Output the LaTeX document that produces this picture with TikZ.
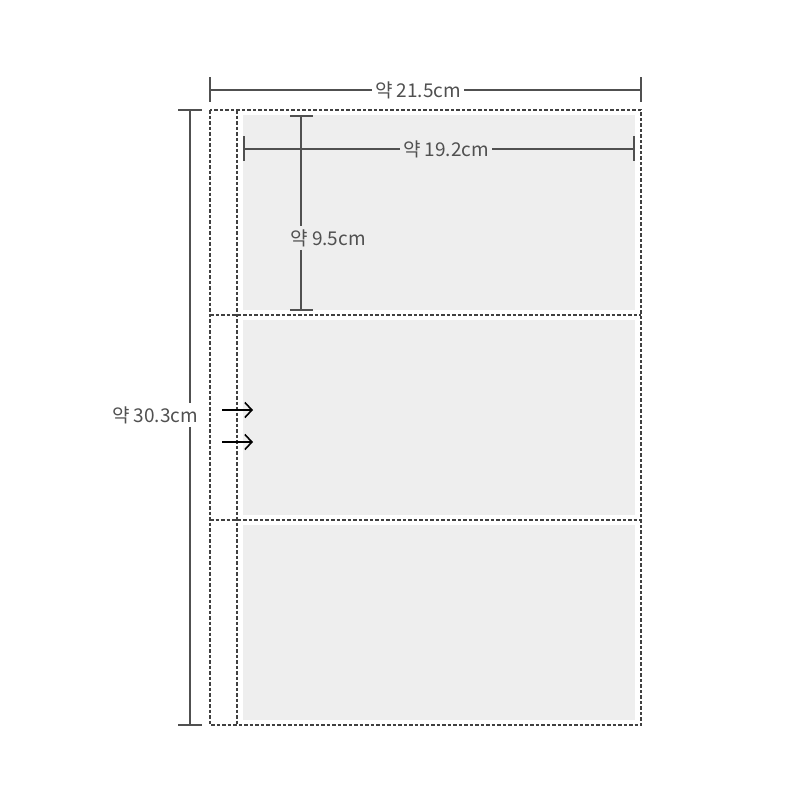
\documentclass[tikz,border=0pt]{standalone}
\usepackage{fontspec}
\setmainfont{Noto Sans CJK KR}
\usetikzlibrary{arrows.meta}
\definecolor{dimgray}{HTML}{505050}
\definecolor{panelgray}{HTML}{EEEEEE}
\tikzset{
  cutline/.style={black!75, dash pattern=on 3.5pt off 2pt, line width=1.1pt},
  dimline/.style={dimgray, line width=1.3pt},
  dimlabel/.style={inner sep=3pt, text=dimgray, font=\fontsize{19}{19}\selectfont},
  panel/.style={fill=panelgray, draw=none},
  slidearrow/.style={black, line width=1.6pt, -{Straight Barb[length=7pt,width=15pt]}}
}
\begin{document}
\begin{tikzpicture}[x=1pt,y=-1pt]
    \useasboundingbox (0,0) rectangle (800,800);

    % the three pockets
    \foreach \top in {115,320,525}
        \fill[panel] (243,\top) rectangle (635,\top+195);

    % cut lines of the sheet
    \draw[cutline] (210,110) rectangle (641,725);
    \draw[cutline] (237,110) -- (237,725);
    \draw[cutline] (210,315) -- (641,315);
    \draw[cutline] (210,520) -- (641,520);

    % width of the sheet
    \coordinate (wl) at (210,90);
    \coordinate (wr) at (641,90);
    \node[dimlabel] (wlab) at (418,90) {약 21.5cm};
    \draw[dimline] (wl) -- (wlab.west);
    \draw[dimline] (wlab.east) -- (wr);
    \draw[dimline] (210,77) -- (210,102);
    \draw[dimline] (641,77) -- (641,102);

    % height of the sheet
    \coordinate (ht) at (190,110);
    \coordinate (hb) at (190,725);
    \node[dimlabel] (hlab) at (155,415) {약 30.3cm};
    \draw[dimline] (ht) -- (ht |- hlab.north);
    \draw[dimline] (hb |- hlab.south) -- (hb);
    \draw[dimline] (178,110) -- (202,110);
    \draw[dimline] (178,725) -- (202,725);

    % width of a pocket
    \coordinate (pl) at (244,149);
    \coordinate (pr) at (634,149);
    \node[dimlabel] (plab) at (446,149) {약 19.2cm};
    \draw[dimline] (pl) -- (plab.west);
    \draw[dimline] (plab.east) -- (pr);
    \draw[dimline] (244,136) -- (244,161);
    \draw[dimline] (634,136) -- (634,161);

    % height of a pocket
    \coordinate (pt) at (301,116);
    \coordinate (pb) at (301,310);
    \node[dimlabel] (qlab) at (328,238) {약 9.5cm};
    \draw[dimline] (pt) -- (pt |- qlab.north);
    \draw[dimline] (pb |- qlab.south) -- (pb);
    \draw[dimline] (290,116) -- (313,116);
    \draw[dimline] (290,310) -- (313,310);

    % insert arrows
    \foreach \y [count=\i] in {410,442} {
        \coordinate (a\i) at (222,\y);
        \coordinate (b\i) at (253,\y);
        \draw[slidearrow] (a\i) -- (b\i);
    }
\end{tikzpicture}
\end{document}
